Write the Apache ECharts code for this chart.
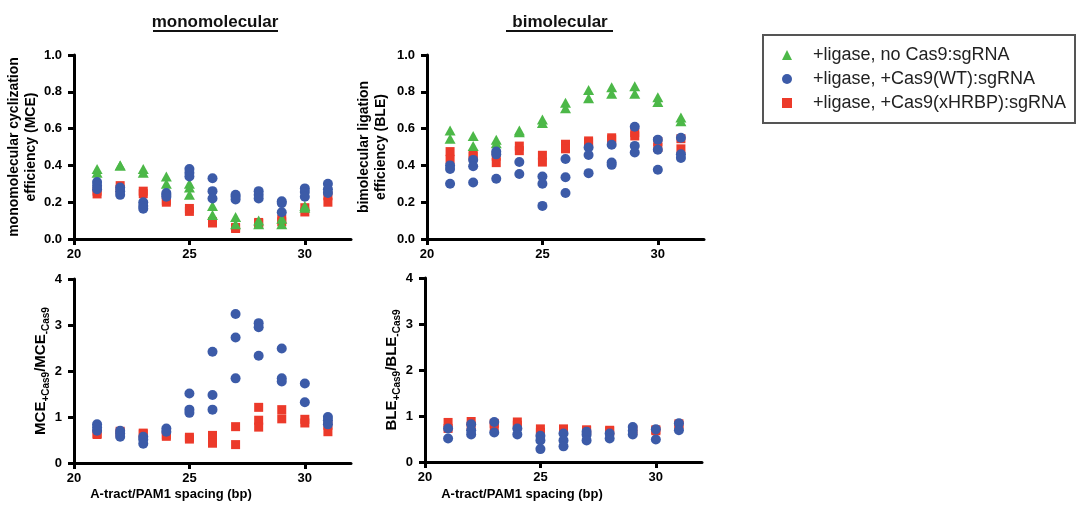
<!DOCTYPE html>
<html><head><meta charset="utf-8">
<script src="https://cdn.jsdelivr.net/npm/echarts@6/dist/echarts.min.js"></script>
<style>html,body{margin:0;padding:0;background:#fff}#c{width:1079px;height:508px}</style>
</head><body><div id="c"></div>
<script>
const FONT = "'Liberation Sans', Arial, sans-serif";
const xs = [21, 22, 23, 24, 25, 26, 27, 28, 29, 30, 31];
const xTicks = [20, 25, 30];
const seriesNames = ['+ligase, no Cas9:sgRNA', '+ligase, +Cas9(WT):sgRNA', '+ligase, +Cas9(xHRBP):sgRNA'];

// monomolecular cyclization efficiency (MCE)
const mceNoCas9 = [[0.38,0.36],[0.40,0.40],[0.38,0.36],[0.34,0.30],[0.30,0.28,0.24],[0.18,0.13],[0.12,0.08],[0.10,0.08],[0.11,0.08],[0.18,0.17],[]];
const mceWT = [[0.31,0.29,0.27],[0.28,0.26,0.24],[0.20,0.18,0.165],[0.25,0.24,0.23],[0.38,0.36,0.34],[0.33,0.26,0.22],[0.24,0.23,0.215],[0.26,0.24,0.22],[0.205,0.195,0.145],[0.275,0.255,0.23],[0.30,0.27,0.25]];
const mceXHRBP = [[0.26,0.245],[0.29,0.27],[0.26,0.246],[0.21,0.20],[0.166,0.15],[0.094,0.087],[0.063,0.057],[0.09,0.085],[0.108,0.093],[0.17,0.147],[0.235,0.20]];

// bimolecular ligation efficiency (BLE)
const bleNoCas9 = [[0.59,0.545],[0.56,0.505],[0.54,0.52],[0.59,0.58],[0.65,0.63],[0.74,0.71],[0.81,0.765],[0.825,0.79],[0.83,0.79],[0.77,0.745],[0.66,0.64]];
const bleWT = [[0.40,0.38,0.30],[0.43,0.395,0.307],[0.475,0.46,0.327],[0.418,0.353],[0.34,0.30,0.18],[0.435,0.336,0.25],[0.497,0.457,0.358],[0.512,0.416,0.403],[0.61,0.506,0.47],[0.54,0.485,0.376],[0.55,0.46,0.44]];
const bleXHRBP = [[0.475,0.433],[0.46,0.45],[0.45,0.415],[0.505,0.48],[0.455,0.418],[0.515,0.49],[0.533,0.523],[0.55,0.54],[0.578,0.56],[0.53,0.497],[0.545,0.49]];

// ratios +Cas9 / -Cas9
const mceRatioWT = [[0.84,0.77,0.70],[0.70,0.64,0.57],[0.57,0.51,0.42],[0.75,0.68],[1.51,1.16,1.09],[2.42,1.48,1.16],[3.24,2.73,1.84],[3.04,2.95,2.33],[2.49,1.84,1.77],[1.73,1.32],[1.0,0.93,0.84]];
const mceRatioXHRBP = [[0.64,0.62],[0.69,0.65],[0.65,0.63],[0.61,0.58],[0.56,0.52],[0.60,0.43],[0.79,0.40],[1.21,0.93,0.78],[1.16,0.96],[0.95,0.87],[0.82,0.68]];
const bleRatioWT = [[0.73,0.51],[0.82,0.69,0.60],[0.87,0.64],[0.73,0.60],[0.57,0.47,0.28],[0.62,0.47,0.34],[0.66,0.59,0.47],[0.62,0.51],[0.76,0.68,0.60],[0.71,0.49],[0.84,0.69]];
const bleRatioXHRBP = [[0.86,0.73],[0.88,0.78],[0.84,0.78],[0.87,0.80],[0.72,0.64],[0.72,0.70],[0.70,0.68],[0.69,0.67],[0.71,0.68],[0.70,0.68],[0.83,0.80]];

const GREEN = '#4cb848', BLUE = '#3c5ba8', RED = '#ec3a2a';

function pts(vals) {
  const out = [];
  vals.forEach((arr, i) => arr.forEach(v => out.push([xs[i], v])));
  return out;
}
function mk(name, idx, data) {
  const st = {
    [seriesNames[0]]: {symbol: 'triangle', symbolSize: [11, 10], color: GREEN},
    [seriesNames[1]]: {symbol: 'circle', symbolSize: 10, color: BLUE},
    [seriesNames[2]]: {symbol: 'rect', symbolSize: 9, color: RED}
  }[name];
  return {
    type: 'scatter', name: name, xAxisIndex: idx, yAxisIndex: idx,
    symbol: st.symbol, symbolSize: st.symbolSize,
    itemStyle: {color: st.color, opacity: 1},
    emphasis: {disabled: true}, silent: true,
    data: pts(data)
  };
}

const grids = [
  {left: 74, top: 55, width: 277, height: 184},
  {left: 427, top: 55, width: 277, height: 184},
  {left: 74, top: 279, width: 277, height: 184},
  {left: 425, top: 278, width: 277, height: 184}
];

function xAx(i) {
  return {
    type: 'value', gridIndex: i, min: 20, max: 32, interval: 5,
    axisLine: {onZero: false, lineStyle: {color: '#000', width: 3}},
    axisTick: {length: 6, lineStyle: {color: '#000', width: 3}},
    axisLabel: {color: '#000', fontWeight: 'bold', fontSize: 13, fontFamily: FONT, margin: 9,
      showMaxLabel: false,
      formatter: v => (xTicks.indexOf(v) >= 0 ? String(v) : '')},
    splitLine: {show: false}
  };
}
function yAx(i, max, interval, digits, name, gap, rich) {
  const o = {
    type: 'value', gridIndex: i, min: 0, max: max, interval: interval,
    axisLine: {show: true, onZero: false, lineStyle: {color: '#000', width: 3}},
    axisTick: {show: true, length: 6, lineStyle: {color: '#000', width: 3}},
    axisLabel: {color: '#000', fontWeight: 'bold', fontSize: 13, fontFamily: FONT, margin: 12,
      formatter: v => v.toFixed(digits)},
    splitLine: {show: false},
    name: name, nameLocation: 'middle', nameRotate: 90, nameGap: gap,
    nameTextStyle: {color: '#000', fontWeight: 'bold', fontSize: 14, fontFamily: FONT, lineHeight: 17}
  };
  if (rich) o.nameTextStyle.rich = rich;
  return o;
}
const subRich = {
  a: {fontSize: 15, fontWeight: 'bold', fontFamily: FONT, color: '#000', lineHeight: 20},
  b: {fontSize: 10, fontWeight: 'bold', fontFamily: FONT, color: '#000', lineHeight: 20, verticalAlign: 'bottom', padding: [6, 0, 0, 0]}
};

const option = {
  animation: false,
  backgroundColor: '#fff',
  grid: grids,
  xAxis: [xAx(0), xAx(1), xAx(2), xAx(3)],
  yAxis: [
    yAx(0, 1, 0.2, 1, 'monomolecular cyclization\nefficiency (MCE)', 32),
    yAx(1, 1, 0.2, 1, 'bimolecular ligation\nefficiency (BLE)', 37),
    yAx(2, 4, 1, 0, '{a|MCE}{b|+Cas9}{a|/MCE}{b|-Cas9}', 22, subRich),
    yAx(3, 4, 1, 0, '{a|BLE}{b|+Cas9}{a|/BLE}{b|-Cas9}', 17, subRich)
  ],
  legend: {
    data: seriesNames, orient: 'vertical', left: 777, top: 41,
    itemWidth: 10, itemHeight: 10, itemGap: 6,
    textStyle: {fontSize: 18, fontFamily: FONT, color: '#222', padding: [0, 0, 0, 16]},
    selectedMode: false
  },
  series: [
    mk(seriesNames[2], 0, mceXHRBP), mk(seriesNames[0], 0, mceNoCas9), mk(seriesNames[1], 0, mceWT),
    mk(seriesNames[2], 1, bleXHRBP), mk(seriesNames[0], 1, bleNoCas9), mk(seriesNames[1], 1, bleWT),
    mk(seriesNames[2], 2, mceRatioXHRBP), mk(seriesNames[1], 2, mceRatioWT),
    mk(seriesNames[2], 3, bleRatioXHRBP), mk(seriesNames[1], 3, bleRatioWT)
  ],
  graphic: [
    {type: 'rect', shape: {x: 763, y: 35, width: 312, height: 88}, style: {fill: 'none', stroke: '#555', lineWidth: 2}, silent: true},
    {type: 'text', x: 215, y: 22, style: {text: 'monomolecular', font: 'bold 17px ' + FONT, fill: '#111', textAlign: 'center', textVerticalAlign: 'middle'}},
    {type: 'line', shape: {x1: 153, y1: 31, x2: 278, y2: 31}, style: {stroke: '#111', lineWidth: 2}},
    {type: 'text', x: 560, y: 22, style: {text: 'bimolecular', font: 'bold 17px ' + FONT, fill: '#111', textAlign: 'center', textVerticalAlign: 'middle'}},
    {type: 'line', shape: {x1: 506, y1: 31, x2: 613, y2: 31}, style: {stroke: '#111', lineWidth: 2}},
    {type: 'text', x: 171, y: 494, style: {text: 'A-tract/PAM1 spacing (bp)', font: 'bold 13px ' + FONT, fill: '#000', textAlign: 'center', textVerticalAlign: 'middle'}},
    {type: 'text', x: 522, y: 494, style: {text: 'A-tract/PAM1 spacing (bp)', font: 'bold 13px ' + FONT, fill: '#000', textAlign: 'center', textVerticalAlign: 'middle'}}
  ]
};
const chart = echarts.init(document.getElementById('c'), null, {renderer: 'canvas'});
chart.setOption(option);
</script>
</body></html>
